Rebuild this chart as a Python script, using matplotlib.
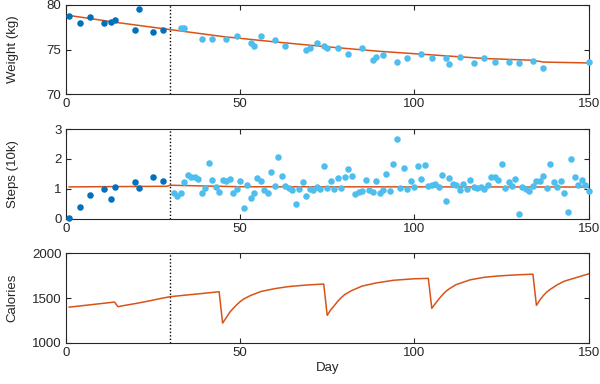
import matplotlib
matplotlib.use("Agg")
import matplotlib.pyplot as plt

plt.rcParams['font.family'] = ['Liberation Sans', 'DejaVu Sans']

# ---------------- data ----------------
# early phase (dark) measurement days
early_days = [1, 4, 7, 11, 13, 14, 20, 21, 25, 28]
early_weight = [78.77, 77.92, 78.66, 77.92, 78.03, 78.29, 77.18, 79.49, 76.95, 77.18]
early_steps = [0.01, 0.38, 0.79, 1.00, 0.67, 1.06, 1.22, 1.03, 1.39, 1.25]

# later phase weight (light)
late_weight_days = [33, 34, 39, 42, 46, 49, 53, 54, 56, 60, 63, 69, 70, 72, 74, 75, 78,
                    81, 85, 88, 89, 91, 95, 98, 102, 105, 109, 110, 113, 117, 120, 123,
                    127, 130, 134, 137, 150]
late_weight = [77.43, 77.43, 76.2, 76.2, 76.2, 76.47, 75.76, 75.39, 76.47, 76.1, 75.39,
               74.9, 75.13, 75.73, 75.39, 75.13, 75.13, 74.53, 75.13, 73.83, 74.16, 74.42,
               73.57, 74.05, 74.53, 74.05, 74.05, 73.35, 74.16, 73.46, 74.05, 73.57, 73.57,
               73.46, 73.68, 72.97, 73.57]

# later phase steps (light), days 31..150
late_steps_days = list(range(31, 151))
late_steps = [0.85, 0.77, 0.85, 1.22, 1.47, 1.41, 1.41, 1.33, 0.85, 1.03,
              1.88, 1.29, 1.07, 0.89, 1.29, 1.25, 1.33, 0.85, 1.00, 1.25,
              0.35, 1.14, 0.70, 0.85, 1.37, 1.25, 0.96, 0.85, 1.58, 1.11,
              2.05, 1.43, 1.11, 1.04, 0.96, 0.48, 1.00, 1.22, 0.75, 1.00,
              0.96, 1.07, 1.00, 1.76, 1.03, 1.25, 1.00, 1.37, 1.03, 1.40,
              1.66, 1.43, 0.82, 0.89, 0.93, 1.29, 0.96, 0.89, 1.25, 0.85,
              0.96, 1.51, 0.93, 1.84, 2.67, 1.03, 1.69, 1.00, 1.25, 1.05,
              1.76, 1.33, 1.79, 1.10, 1.13, 1.17, 1.07, 1.47, 0.60, 1.36,
              1.17, 1.13, 0.96, 1.17, 1.00, 1.29, 1.07, 1.03, 1.07, 1.00,
              1.14, 1.40, 1.40, 1.29, 1.84, 1.03, 1.22, 1.11, 1.33, 0.17,
              1.07, 1.00, 0.93, 1.11, 1.25, 1.25, 1.43, 1.03, 1.84, 1.22,
              1.07, 1.25, 0.85, 0.24, 2.01, 1.40, 1.14, 1.29, 1.14, 0.93]

# model / trend lines
weight_fit_days = [1, 15, 30, 45, 60, 75, 90, 105, 120, 134, 137, 150]
weight_fit = [78.8, 78.0, 77.22, 76.45, 75.85, 75.3, 74.8, 74.4, 74.0, 73.8, 73.6, 73.5]

steps_fit_days = [1, 29, 30, 50, 150]
steps_fit = [1.065, 1.085, 1.12, 1.07, 1.06]

cal_days = [1, 14, 15, 17, 20, 24, 27, 30, 34, 38, 44,
            45, 46, 47, 48, 49, 50, 51, 53, 56, 60, 64, 69, 74,
            75, 76, 77, 78, 79, 80, 82, 85, 89, 94, 100, 104,
            105, 106, 107, 108, 109, 110, 112, 116, 120, 124, 129, 134,
            135, 136, 137, 138, 139, 141, 143, 146, 150]
calories = [1400, 1457, 1405, 1420, 1440, 1470, 1495, 1517, 1533, 1548, 1572,
            1222, 1280, 1340, 1385, 1425, 1460, 1490, 1530, 1575, 1607, 1630, 1647, 1658,
            1309, 1370, 1415, 1465, 1505, 1540, 1585, 1635, 1670, 1700, 1717, 1721,
            1387, 1440, 1490, 1535, 1575, 1605, 1652, 1705, 1733, 1748, 1760, 1768,
            1420, 1480, 1530, 1570, 1600, 1650, 1690, 1725, 1772]

change_day = 30

# ---------------- styling ----------------
DARK = '#0072BD'
LIGHT = '#4DBEEE'
ORANGE = '#D95319'
AX = '#262626'
MS = 22

fig = plt.figure(figsize=(6, 3.84), dpi=100)
left, width, height = 0.1095, 0.8717, 0.2333
ax1 = fig.add_axes([left, 0.7544, width, height])
ax2 = fig.add_axes([left, 0.4305, width, height])
ax3 = fig.add_axes([left, 0.1068, width, height])


def style(ax, yticks, ylim):
    ax.set_xlim(0, 150)
    ax.set_ylim(*ylim)
    ax.set_xticks([0, 50, 100, 150])
    ax.set_yticks(yticks)
    ax.tick_params(direction='in', top=True, right=True, length=3.5, width=0.8,
                   labelsize=9.5, colors=AX, pad=3)
    for s in ax.spines.values():
        s.set_color(AX)
        s.set_linewidth(0.8)
    ax.axvline(change_day, color='k', linestyle=(0, (1, 1.5)), linewidth=1.0, zorder=1)


# Weight
style(ax1, [70, 75, 80], (70, 80))
ax1.plot(weight_fit_days, weight_fit, color=ORANGE, linewidth=1.1, zorder=2)
ax1.scatter(early_days, early_weight, s=MS, color=DARK, zorder=3, linewidths=0, clip_on=False)
ax1.scatter(late_weight_days, late_weight, s=MS, color=LIGHT, zorder=3, linewidths=0, clip_on=False)
ax1.set_ylabel('Weight (kg)', fontsize=9.5, color=AX)

# Steps
style(ax2, [0, 1, 2, 3], (0, 3))
ax2.plot(steps_fit_days, steps_fit, color=ORANGE, linewidth=1.1, zorder=2)
ax2.scatter(early_days, early_steps, s=MS, color=DARK, zorder=3, linewidths=0, clip_on=False)
ax2.scatter(late_steps_days, late_steps, s=MS, color=LIGHT, zorder=3, linewidths=0, clip_on=False)
ax2.set_ylabel('Steps (10k)', fontsize=9.5, color=AX)

# Calories
style(ax3, [1000, 1500, 2000], (1000, 2000))
ax3.plot(cal_days, calories, color=ORANGE, linewidth=1.1, zorder=2)
ax3.set_ylabel('Calories', fontsize=9.5, color=AX)
ax3.set_xlabel('Day', fontsize=9.5, color=AX, labelpad=2)

for ax in (ax1, ax2, ax3):
    ax.yaxis.set_label_coords(-0.09, 0.5)

fig.savefig('out.png', dpi=100)
